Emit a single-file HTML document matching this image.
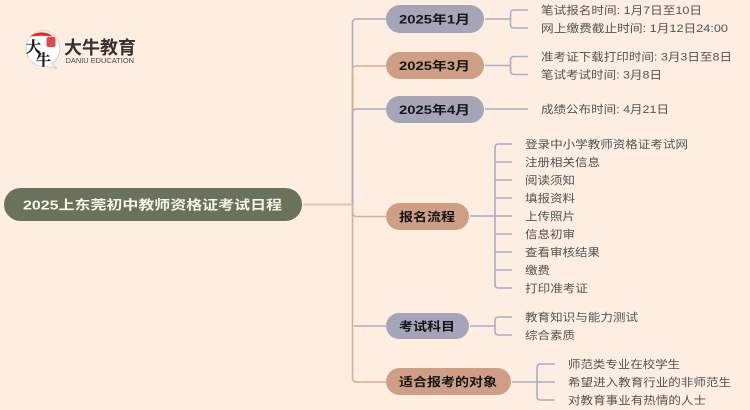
<!DOCTYPE html>
<html lang="zh">
<head>
<meta charset="utf-8">
<style>
html,body{margin:0;padding:0;background:#feeee1;width:750px;height:410px;overflow:hidden}
svg{display:block;filter:blur(0.3px)}
text{font-family:"Liberation Sans","Noto Sans CJK SC",sans-serif}
.n{font-size:11px;fill:#55524f;dominant-baseline:central}
.b{font-size:12px;font-weight:bold;fill:#151515;dominant-baseline:central}
.l{fill:none;stroke-width:1.6}
.g{stroke:#acacc4}
.o{stroke:#dfa98c}
</style>
</head>
<body>
<svg width="750" height="410" viewBox="0 0 750 410" xmlns="http://www.w3.org/2000/svg">
<rect width="750" height="410" fill="#feeee1"/>

<!-- trunk connectors -->
<path class="l g" d="M352.5 204.500V23Q352.500 19 356.500 19H386"/>
<path class="l o" d="M352.500 204.500V70Q352.500 66 356.500 66H386"/>
<path class="l g" d="M352.500 204.500V113Q352.500 109 356.500 109H386"/>
<path class="l o" d="M352.500 204.500V212Q352.500 216.500 356.500 216.500H386"/>
<path class="l o" d="M352.500 204.500V378Q352.500 382 356.500 382H386"/>
<path class="l g" d="M354 326H386"/>
<path d="M303 204.500H352.500" fill="none" stroke="#ebc3ac" stroke-width="2"/>

<!-- child connectors -->
<path class="l g" d="M485 19H510.500M528 10H514Q510.500 10 510.500 13.500V24.500Q510.500 28 514 28H528"/>
<path class="l g" d="M485 65.500H510.500M528 56.500H514Q510.500 56.500 510.500 60V71Q510.500 74.500 514 74.500H528"/>
<path class="l g" d="M485 109H528"/>
<path class="l g" d="M470 216H495M512 144H498.500Q495 144 495 147.500V284.500Q495 288 498.500 288H512M495 162H512M495 180H512M495 198H512M495 216H512M495 234H512M495 252H512M495 270H512"/>
<path class="l g" d="M470 326H495M512 317H498.500Q495 317 495 320.500V331.500Q495 335 498.500 335H512"/>
<path class="l g" d="M512 382H555M555 364H540.500Q537 364 537 367.500V396.500Q537 400 540.500 400H555"/>

<!-- root -->
<rect x="4" y="188" width="298" height="33" rx="16.500" fill="#6b725a"/>
<text x="23" y="205" font-size="13" font-weight="bold" fill="#f6f3ea" dominant-baseline="central" textLength="259" lengthAdjust="spacingAndGlyphs">2025上东莞初中教师资格证考试日程</text>

<!-- branch nodes -->
<rect x="386" y="5" width="98" height="28" rx="14" fill="#a5a5b9"/>
<text class="b" x="399" y="19.500" textLength="71" lengthAdjust="spacingAndGlyphs">2025年1月</text>
<rect x="386" y="52" width="98" height="27" rx="13.500" fill="#cf9f85"/>
<text class="b" x="399" y="66" textLength="71" lengthAdjust="spacingAndGlyphs">2025年3月</text>
<rect x="386" y="96" width="98" height="27" rx="13.500" fill="#a5a5b9"/>
<text class="b" x="399" y="110" textLength="71" lengthAdjust="spacingAndGlyphs">2025年4月</text>
<rect x="386" y="203" width="83" height="27" rx="13.500" fill="#cf9f85"/>
<text class="b" x="399" y="217" textLength="56" lengthAdjust="spacingAndGlyphs">报名流程</text>
<rect x="386" y="313" width="83" height="26" rx="13" fill="#a5a5b9"/>
<text class="b" x="399" y="326.500" textLength="56" lengthAdjust="spacingAndGlyphs">考试科目</text>
<rect x="386" y="368" width="125" height="27" rx="13.500" fill="#cf9f85"/>
<text class="b" x="399" y="382" textLength="98" lengthAdjust="spacingAndGlyphs">适合报考的对象</text>

<!-- leaves -->
<text class="n" x="541" y="11" textLength="161" lengthAdjust="spacingAndGlyphs">笔试报名时间: 1月7日至10日</text>
<text class="n" x="541" y="29" textLength="187" lengthAdjust="spacingAndGlyphs">网上缴费截止时间: 1月12日24:00</text>
<text class="n" x="541" y="57.500" textLength="191" lengthAdjust="spacingAndGlyphs">准考证下载打印时间: 3月3日至8日</text>
<text class="n" x="541" y="75.500" textLength="121" lengthAdjust="spacingAndGlyphs">笔试考试时间: 3月8日</text>
<text class="n" x="541" y="110" textLength="128" lengthAdjust="spacingAndGlyphs">成绩公布时间: 4月21日</text>

<text class="n" x="525" y="145" textLength="163" lengthAdjust="spacingAndGlyphs">登录中小学教师资格证考试网</text>
<text class="n" x="525" y="163" textLength="75" lengthAdjust="spacingAndGlyphs">注册相关信息</text>
<text class="n" x="525" y="181" textLength="50" lengthAdjust="spacingAndGlyphs">阅读须知</text>
<text class="n" x="525" y="199" textLength="50" lengthAdjust="spacingAndGlyphs">填报资料</text>
<text class="n" x="525" y="217" textLength="50" lengthAdjust="spacingAndGlyphs">上传照片</text>
<text class="n" x="525" y="235" textLength="50" lengthAdjust="spacingAndGlyphs">信息初审</text>
<text class="n" x="525" y="253" textLength="75" lengthAdjust="spacingAndGlyphs">查看审核结果</text>
<text class="n" x="525" y="271" textLength="25" lengthAdjust="spacingAndGlyphs">缴费</text>
<text class="n" x="525" y="289" textLength="63" lengthAdjust="spacingAndGlyphs">打印准考证</text>

<text class="n" x="525" y="318" textLength="113" lengthAdjust="spacingAndGlyphs">教育知识与能力测试</text>
<text class="n" x="525" y="336" textLength="50" lengthAdjust="spacingAndGlyphs">综合素质</text>

<text class="n" x="568" y="365" textLength="112" lengthAdjust="spacingAndGlyphs">师范类专业在校学生</text>
<text class="n" x="568" y="383" textLength="163" lengthAdjust="spacingAndGlyphs">希望进入教育行业的非师范生</text>
<text class="n" x="568" y="401" textLength="138" lengthAdjust="spacingAndGlyphs">对教育事业有热情的人士</text>

<!-- logo -->
<path d="M41.500 30.500A18 18 0 0 1 51 64L57 68.500L47 66.500A18 18 0 1 1 41.500 30.500Z" fill="#fff" stroke="#cfc9c5" stroke-width="0.800"/>
<path d="M30 36.500A18 18 0 0 1 53 36.500Q41.500 35 30 36.500Z" fill="#e8262a"/>
<rect x="46.500" y="37" width="9" height="10" rx="2" fill="#e2474a"/>
<text x="26" y="52" style="font-family:'Noto Serif CJK SC',serif" font-size="15" font-weight="bold" fill="#1c1c1c" stroke="#1c1c1c" stroke-width="0.300">大</text>
<text x="36" y="65" style="font-family:'Noto Serif CJK SC',serif" font-size="15" font-weight="bold" fill="#1c1c1c" stroke="#1c1c1c" stroke-width="0.300">牛</text>
<text x="64" y="54" font-size="18" font-weight="bold" fill="#36302e" textLength="72" lengthAdjust="spacingAndGlyphs">大牛教育</text>
<text x="65.500" y="63" font-size="7.500" fill="#4a4543" textLength="68.500" lengthAdjust="spacingAndGlyphs">DANIU EDUCATION</text>
</svg>
</body>
</html>
